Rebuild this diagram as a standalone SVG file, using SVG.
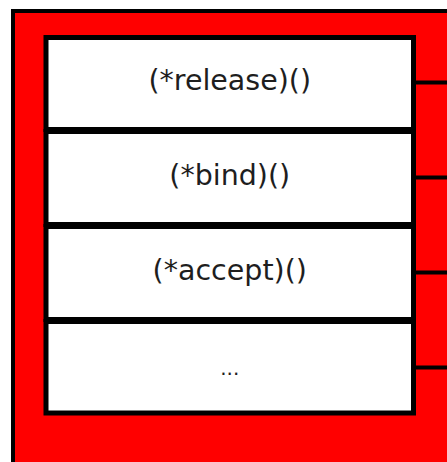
<svg xmlns="http://www.w3.org/2000/svg" width="447" height="462" viewBox="0 0 447 462">
  <style>
    .frame { fill: #ff0000; stroke: #000000; stroke-width: 4; }
    .slot { fill: #ffffff; stroke: #000000; stroke-width: 5; }
    .link { stroke: #000000; stroke-width: 4; fill: none; }
    .label { font-family: "DejaVu Sans", "Verdana", sans-serif; font-size: 28.5px; fill: #1e1e1e; text-anchor: middle; }
    .more { font-size: 20px; }
  </style>

  <!-- operations table container -->
  <g id="ops-table">
    <rect class="frame" x="13" y="11" width="500" height="500"/>
  </g>

  <!-- pointers leaving each slot -->
  <g id="connectors">
    <line class="link" x1="413.5" y1="82.5" x2="447" y2="82.5"/>
    <line class="link" x1="413.5" y1="177.5" x2="447" y2="177.5"/>
    <line class="link" x1="413.5" y1="272.5" x2="447" y2="272.5"/>
    <line class="link" x1="413.5" y1="367.5" x2="447" y2="367.5"/>
  </g>

  <g id="slot-release">
    <rect class="slot" x="46" y="37.5" width="367.5" height="92"/>
    <text class="label" x="229.75" y="90">(*release)()</text>
  </g>

  <g id="slot-bind">
    <rect class="slot" x="46" y="131.5" width="367.5" height="93"/>
    <text class="label" x="229.75" y="185">(*bind)()</text>
  </g>

  <g id="slot-accept">
    <rect class="slot" x="46" y="226.5" width="367.5" height="93"/>
    <text class="label" x="229.75" y="280">(*accept)()</text>
  </g>

  <g id="slot-more">
    <rect class="slot" x="46" y="321.5" width="367.5" height="91.5"/>
    <text class="label more" x="229.75" y="375">...</text>
  </g>
</svg>
